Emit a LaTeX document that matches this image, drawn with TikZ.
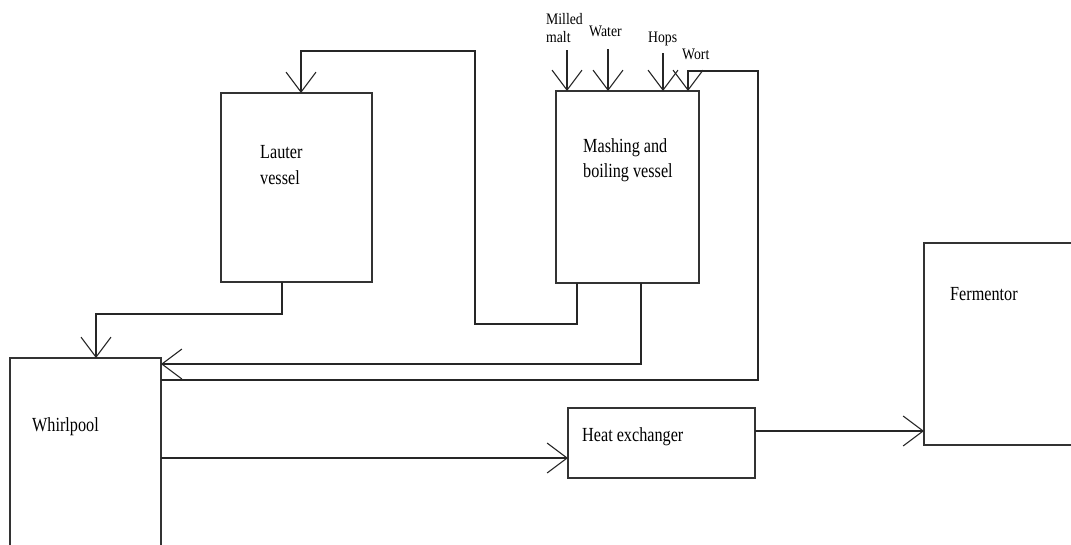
\documentclass[tikz,border=0pt]{standalone}
\usepackage{fontspec}
\setmainfont{Liberation Serif}
\usetikzlibrary{arrows.meta}
\tikzset{
  vessel/.style={draw=black!80, line width=1.1pt, inner sep=0pt, outer sep=0pt},
  flow/.style={draw=black!85, line width=1.1pt, -{Straight Barb[length=20pt,width=30pt]}},
  lbl/.style={inner sep=0pt, anchor=north west, align=left, xscale=0.81, font=\fontsize{20}{23}\selectfont},
  tag/.style={inner sep=0pt, anchor=north west, align=left, xscale=0.86, font=\fontsize{16}{18}\selectfont},
}
\begin{document}
\begin{tikzpicture}[x=1pt, y=-1pt]
  \useasboundingbox (0,0) rectangle (1071,544);
  \clip (0,0) rectangle (1071,544);
  % vessels
  \node[vessel, minimum width=151, minimum height=189] (lauter) at (296.5,187.5) {};
  \node[vessel, minimum width=143, minimum height=192] (mash) at (627.5,187) {};
  \node[vessel, minimum width=151, minimum height=250] (whirl) at (85.5,483) {};
  \node[vessel, minimum width=187, minimum height=70] (heatx) at (661.5,443) {};
  \node[vessel, minimum width=200, minimum height=202] (ferm) at (1024,344) {};
  % texts
  \node[lbl] (lautertext) at (260,145) {Lauter\\[3pt]vessel};
  \node[lbl] (mashtext) at (583,138) {Mashing and\\[2pt]boiling vessel};
  \node[lbl] (whirltext) at (32,417) {Whirlpool};
  \node[lbl] (heattext) at (582,427) {Heat exchanger};
  \node[lbl] (fermtext) at (950,287) {Fermentor};
  \node[tag] (malt) at (546,13) {Milled\\malt};
  \node[tag] (water) at (589,26) {Water};
  \node[tag] (hops) at (648,32) {Hops};
  \node[tag] (wort) at (682,49) {Wort};
  % feeds
  \coordinate (maltin) at (567,50);
  \coordinate (waterin) at (608,49);
  \coordinate (hopsin) at (663,53);
  \draw[flow] (maltin) -- (maltin |- mash.north);
  \draw[flow] (waterin) -- (waterin |- mash.north);
  \draw[flow] (hopsin) -- (hopsin |- mash.north);
  % pipes
  \draw[flow] (lauter.south -| 282,0) |- (96,314) -- (whirl.north -| 96,0);
  \draw[flow] (mash.south -| 577,0) |- (475,324) |- (301,51) -- (lauter.north -| 301,0);
  \draw[flow] (mash.south -| 641,0) |- (whirl.east |- 0,364);
  \draw[flow] (whirl.east |- 0,380) -| (758,71) -| (mash.north -| 688,0);
  \draw[flow] (whirl.east |- 0,458) -- (heatx.west |- 0,458);
  \draw[flow] (heatx.east |- 0,431) -- (ferm.west |- 0,431);
\end{tikzpicture}
\end{document}
